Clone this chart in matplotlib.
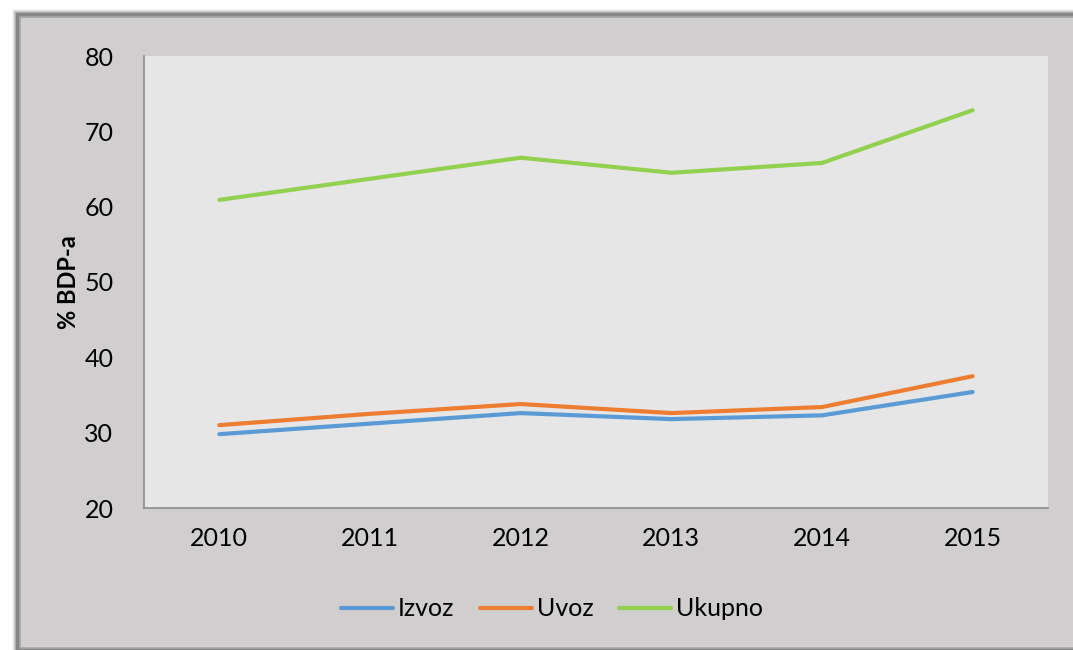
import matplotlib.pyplot as plt
from matplotlib.patches import Rectangle

plt.rcParams['font.family'] = ['Lato', 'DejaVu Sans']

years = ["2010", "2011", "2012", "2013", "2014", "2015"]
izvoz = [29.8, 31.2, 32.6, 31.8, 32.3, 35.4]
uvoz = [31.0, 32.5, 33.8, 32.6, 33.4, 37.5]
ukupno = [60.9, 63.7, 66.5, 64.5, 65.8, 72.8]

W, H = 1073, 650
fig = plt.figure(figsize=(W / 100, H / 100), dpi=100)
fig.patch.set_facecolor("white")

# outer chart box with a soft shadow on the left/top
x0, y0 = 20, 17
for i, a in enumerate([0.04, 0.07, 0.1, 0.15, 0.22]):
    off = 5 - i
    fig.patches.append(Rectangle(((x0 - off - 3) / W, 0), 1.0, (H - y0 + off + 3) / H,
                                 transform=fig.transFigure, facecolor="black",
                                 alpha=a, edgecolor="none", zorder=-5))
fig.patches.append(Rectangle((x0 / W, 2 / H), 1.0, (H - y0 - 2) / H,
                             transform=fig.transFigure, facecolor="#d0cece",
                             edgecolor="#a6a6a6", linewidth=1.2, zorder=-4))

ax = fig.add_axes([144 / W, 1 - 508 / H, (1048 - 144) / W, (508 - 56) / H])
ax.set_zorder(2)
ax.set_facecolor("#e6e6e6")
x = range(len(years))
ax.plot(x, izvoz, color="#5b9bd5", lw=3, label="Izvoz", solid_capstyle="round")
ax.plot(x, uvoz, color="#ed7d31", lw=3, label="Uvoz", solid_capstyle="round")
ax.plot(x, ukupno, color="#92d050", lw=3, label="Ukupno", solid_capstyle="round")

ax.set_xlim(-0.5, 5.5)
ax.set_ylim(20, 80)
ax.set_yticks([20, 30, 40, 50, 60, 70, 80])
ax.set_xticks(list(x))
ax.set_xticklabels(years)
ax.tick_params(length=0, labelsize=18, pad=14)
ax.tick_params(axis="y", pad=22)
for s in ["top", "right"]:
    ax.spines[s].set_visible(False)
for s in ["left", "bottom"]:
    ax.spines[s].set_color("#8c8c8c")
    ax.spines[s].set_linewidth(1.2)

fig.text(68 / W, 1 - 282 / H, "% BDP-a", rotation=90, fontsize=17,
         fontweight="bold", ha="center", va="center")

fig.legend(loc="center", bbox_to_anchor=(552 / W, 1 - 609 / H), ncol=3,
           frameon=False, fontsize=18, handlelength=2.1, handletextpad=0.2,
           columnspacing=1.0)

fig.savefig("out.png", dpi=100)
